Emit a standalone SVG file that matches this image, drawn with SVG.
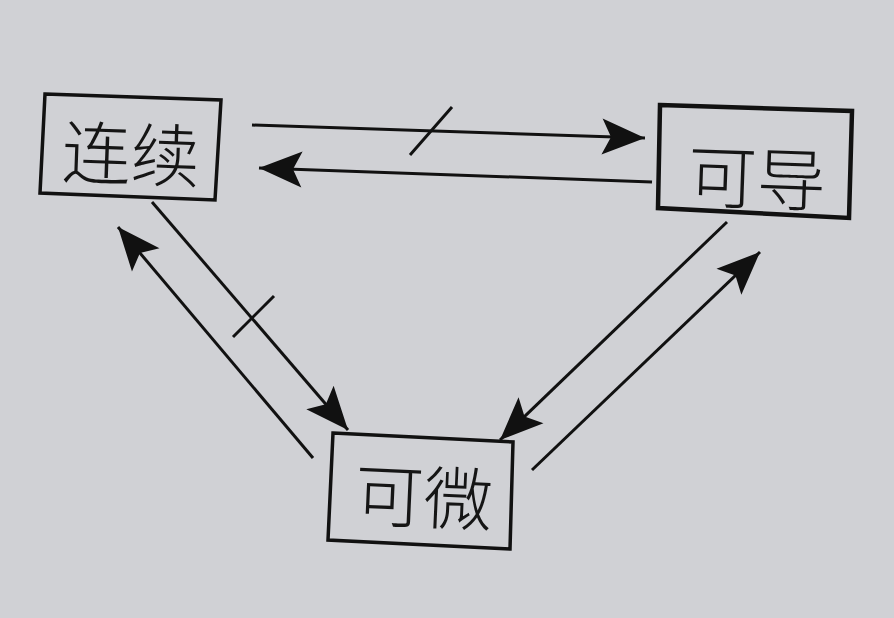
<svg xmlns="http://www.w3.org/2000/svg" width="894" height="618" viewBox="0 0 894 618">
<style>
.box{fill:none;stroke:#111;stroke-width:3.5;stroke-linejoin:miter}
.lbl{font-family:"Noto Sans CJK SC","Noto Sans CJK JP",sans-serif;font-size:69px;font-weight:300;fill:#151515;text-anchor:middle;dominant-baseline:central}
.conn{stroke:#111;stroke-width:3;fill:none}
.tick{stroke:#111;stroke-width:3;fill:none}
</style>
<defs>
<marker id="ah" markerUnits="userSpaceOnUse" markerWidth="46" markerHeight="40" viewBox="0 0 46 40" refX="44" refY="20" orient="auto">
<path d="M44,20 L1,2 L10,20 L1,38 Z" fill="#111"/>
</marker>
</defs>
<rect width="894" height="618" fill="#d0d1d5"/>
<g id="node-lianxu">
<polygon class="box" points="45,94 221,100 215,200 40,193"/>
<text class="lbl" x="131" y="150" transform="rotate(2 131 150)">连续</text>
</g>
<g id="node-kedao">
<polygon class="box" style="stroke-width:4.5" points="660,105 852,111 849,218 658,208"/>
<text class="lbl" x="757" y="174" transform="rotate(2 757 174)">可导</text>
</g>
<g id="node-kewei">
<polygon class="box" points="333,433 513,442 510,549 328,540"/>
<text class="lbl" x="424" y="493" transform="rotate(2.5 424 493)">可微</text>
</g>
<g id="connectors">
<line class="conn" x1="252" y1="125" x2="645" y2="138" marker-end="url(#ah)"/>
<line class="tick" x1="410" y1="155" x2="452" y2="107"/>
<line class="conn" x1="652" y1="182" x2="259" y2="168" marker-end="url(#ah)"/>
<line class="conn" x1="152" y1="202" x2="348" y2="430" marker-end="url(#ah)"/>
<line class="tick" x1="233" y1="337" x2="274" y2="296"/>
<line class="conn" x1="313" y1="458" x2="118" y2="227" marker-end="url(#ah)"/>
<line class="conn" x1="727" y1="222" x2="500" y2="440" marker-end="url(#ah)"/>
<line class="conn" x1="532" y1="470" x2="760" y2="252" marker-end="url(#ah)"/>
</g>
</svg>
